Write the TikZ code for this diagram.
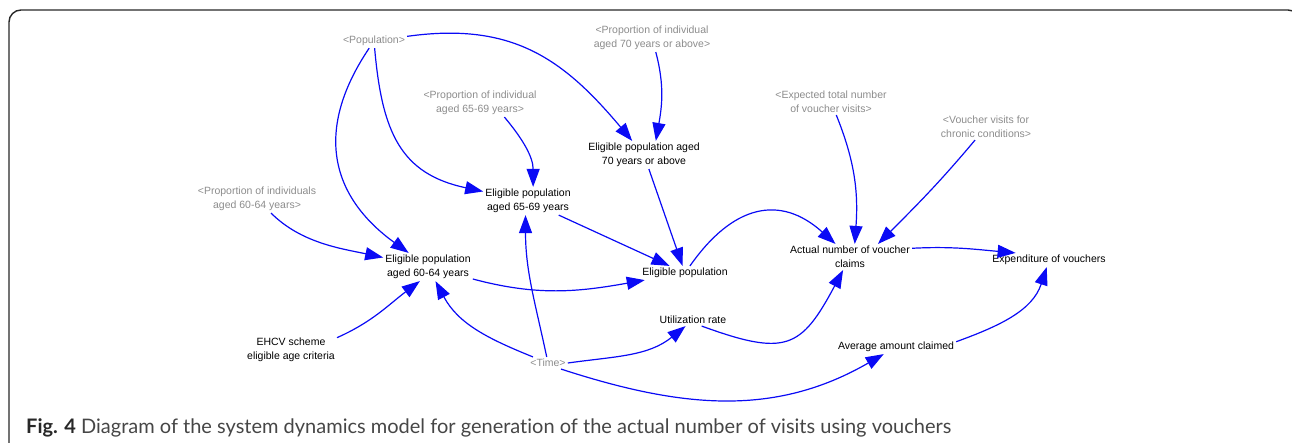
\documentclass[tikz,border=0pt]{standalone}
\usepackage{fontspec}
\setmainfont{Liberation Sans}
\newfontfamily\capfont[Ligatures=NoCommon]{Lato}
\usetikzlibrary{arrows.meta}
\definecolor{sdblue}{RGB}{10,10,245}
\definecolor{shadowgray}{RGB}{140,140,140}
\definecolor{framegray}{RGB}{40,40,40}
\definecolor{captiongray}{RGB}{70,70,70}
\tikzset{
  var/.style={inner sep=2pt, align=center, text=black,
    font=\fontsize{10.5}{14}\selectfont},
  shadow/.style={var, text=shadowgray},
  link/.style={draw=sdblue, line width=1.2pt,
    -{Triangle[length=18pt,width=13pt]}},
}
\begin{document}
\begin{tikzpicture}[x=1pt,y=-1pt]
\useasboundingbox (0,0) rectangle (1292,442);
\begin{scope}
\clip (0,0) rectangle (1292,442);
\draw[line width=1.4pt, draw=framegray, rounded corners=12pt]
  (9,470) -- (9,10) -- (1300,10) -- (1300,470);
\end{scope}

% shadow variables
\node[shadow] (pop)   at (374,41)  {<Population>};
\node[shadow] (p70)   at (652,38)  {<Proportion of individual\\aged 70 years or above>};
\node[shadow] (p65)   at (480,103) {<Proportion of individual\\aged 65-69 years>};
\node[shadow] (p60)   at (257,199) {<Proportion of individuals\\aged 60-64 years>};
\node[shadow] (expv)  at (831,102) {<Expected total number\\of voucher visits>};
\node[shadow] (chron) at (986,127) {<Voucher visits for\\chronic conditions>};
\node[shadow] (time)  at (548,363) {<Time>};

% model variables
\node[var] (e70)  at (644,155) {Eligible population aged\\70 years or above};
\node[var] (e65)  at (528,201) {Eligible population\\aged 65-69 years};
\node[var] (e60)  at (428,267) {Eligible population\\aged 60-64 years};
\node[var] (ep)   at (685,273) {Eligible population};
\node[var] (act)  at (850,257) {Actual number of voucher\\claims};
\node[var] (expd) at (1049,260) {Expenditure of vouchers};
\node[var] (util) at (693,320) {Utilization rate};
\node[var] (avg)  at (896,347) {Average amount claimed};
\node[var] (ehcv) at (291,350) {EHCV scheme\\eligible age criteria};

% causal links
\draw[link] (pop) to[out=8,in=130,looseness=1.1] (e70);
\draw[link] (pop) to[out=-85,in=168,looseness=1.2] (e65);
\draw[link] (pop) to[out=236,in=144,looseness=1.2] (e60);
\draw[link] (p70) to[out=-75,in=80] (e70.50);
\draw[link] (p65.-30) to[out=-50,in=90] (e65.70);
\draw[link] (p60) to[out=-45,in=168,looseness=0.9] (e60);
\draw[link] (expv) to[out=-68,in=86] (act.70);
\draw[link] (chron) to[out=230,in=45] (act.25);
\draw[link] (e70) -- (ep);
\draw[link] (e65) -- (ep);
\draw[link] (e60) to[out=-15,in=190] (ep);
\draw[link] (ep) to[out=55,in=138,looseness=1.3] (act);
\draw[link] (act.8) to[out=3,in=175] (expd.168);
\draw[link] (util.-35) to[out=-20,in=-118,looseness=1.5] (act);
\draw[link] (avg.5) to[out=20,in=-108] (expd);
\draw[link] (ehcv.15) to[out=24,in=217] (e60.240);
\draw[link] (time) to[out=158,in=-62] (e60);
\draw[link] (time) to[out=102,in=270] (e65.260);
\draw[link] (time.east) to[out=8,in=219] (util);
\draw[link] (time.-25) to[out=-18,in=210] (avg);

% caption
\node[anchor=base west, inner sep=0pt, text=captiongray,
  font=\capfont\fontsize{20}{23}\selectfont] (cap) at (26,433)
  {{\bfseries\color{framegray}Fig. 4} Diagram of the system dynamics model for generation of the actual number of visits using vouchers};
\end{tikzpicture}
\end{document}
